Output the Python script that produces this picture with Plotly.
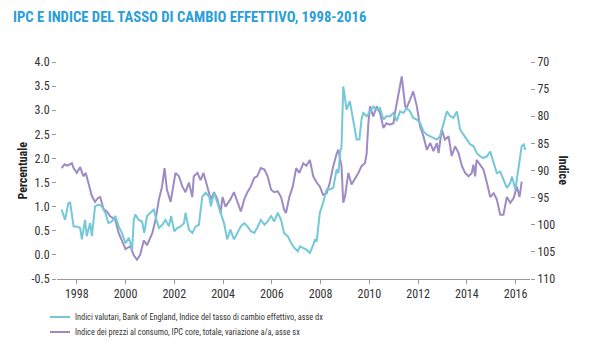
import plotly.graph_objects as go

# ---- data ----
cpi_years = [1997.38, 1997.5, 1997.62, 1997.8, 1997.87, 1998.0, 1998.14, 1998.27, 1998.37, 1998.48,
             1998.62, 1998.75, 1998.87, 1998.96, 1999.1, 1999.23, 1999.37, 1999.58, 1999.72, 1999.85,
             2000.0, 2000.2, 2000.33, 2000.47, 2000.6, 2000.75, 2000.88, 2001.1, 2001.23, 2001.37,
             2001.5, 2001.6, 2001.7, 2001.85, 2001.98, 2002.05, 2002.19, 2002.33, 2002.46, 2002.6,
             2002.74, 2002.8, 2002.95, 2003.08, 2003.2, 2003.36, 2003.5, 2003.63, 2003.77, 2003.9,
             2003.98, 2004.1, 2004.3, 2004.45, 2004.6, 2004.73, 2004.87, 2005.0, 2005.14, 2005.28,
             2005.4, 2005.55, 2005.7, 2005.83, 2005.97, 2006.1, 2006.24, 2006.38, 2006.5, 2006.58,
             2006.72, 2006.86, 2007.0, 2007.13, 2007.29, 2007.42, 2007.56, 2007.7, 2007.84, 2007.97,
             2008.1, 2008.25, 2008.38, 2008.52, 2008.66, 2008.73, 2008.86, 2008.93, 2009.0, 2009.14,
             2009.27, 2009.4, 2009.55, 2009.68, 2009.82, 2009.89, 2009.96, 2010.03, 2010.16, 2010.3,
             2010.44, 2010.58, 2010.7, 2010.85, 2010.99, 2011.05, 2011.2, 2011.33, 2011.47, 2011.53,
             2011.67, 2011.8, 2011.95, 2012.08, 2012.22, 2012.36, 2012.5, 2012.63, 2012.77, 2012.84,
             2012.97, 2013.1, 2013.25, 2013.38, 2013.52, 2013.66, 2013.8, 2013.93, 2014.07, 2014.2,
             2014.27, 2014.34, 2014.4, 2014.55, 2014.68, 2014.82, 2014.96, 2015.1, 2015.23, 2015.37,
             2015.5, 2015.64, 2015.78, 2015.92, 2016.05, 2016.16, 2016.25]
cpi_values = [1.80, 1.88, 1.85, 1.90, 1.80, 1.70, 1.82, 1.63, 1.70, 1.50,
              1.22, 1.10, 1.18, 1.20, 0.95, 0.90, 0.80, 0.73, 0.45, 0.30,
              0.12, 0.18, 0.00, -0.10, 0.00, 0.30, 0.20, 0.45, 0.73, 1.15,
              1.42, 1.80, 1.35, 1.10, 1.50, 1.70, 1.63, 1.42, 1.30, 1.50,
              1.20, 1.63, 1.70, 1.55, 1.70, 1.42, 1.15, 1.30, 1.15, 0.87,
              1.20, 1.00, 1.15, 1.30, 1.10, 0.90, 1.15, 1.30, 1.42, 1.60,
              1.63, 1.80, 1.77, 1.63, 1.35, 1.30, 1.32, 1.20, 0.95, 0.87,
              1.20, 1.42, 1.80, 1.70, 1.90, 1.85, 1.97, 1.63, 1.50, 1.42,
              1.25, 1.28, 1.50, 1.84, 2.10, 2.18, 1.84, 1.08, 1.20, 1.70,
              1.46, 1.56, 1.70, 1.84, 1.90, 2.10, 2.73, 3.08, 2.87, 3.08,
              2.94, 2.63, 2.73, 2.70, 2.73, 2.94, 3.36, 3.70, 3.08, 3.05,
              3.22, 3.39, 3.08, 2.67, 2.46, 2.18, 2.32, 2.15, 2.32, 2.11,
              2.60, 2.39, 2.46, 2.05, 2.25, 2.11, 1.84, 1.70, 1.63, 1.70,
              1.87, 1.63, 1.97, 1.87, 1.77, 1.50, 1.20, 1.28, 1.15, 0.83,
              0.83, 1.20, 1.08, 1.18, 1.42, 1.20, 1.52]

eer_years = [1997.38, 1997.52, 1997.66, 1997.73, 1997.87, 1998.0, 1998.14, 1998.21, 1998.34, 1998.41,
             1998.55, 1998.62, 1998.75, 1998.89, 1999.03, 1999.17, 1999.3, 1999.44, 1999.58, 1999.72,
             1999.85, 2000.0, 2000.14, 2000.27, 2000.34, 2000.4, 2000.54, 2000.68, 2000.77, 2000.88,
             2001.02, 2001.16, 2001.27, 2001.37, 2001.51, 2001.64, 2001.78, 2001.87, 2002.0, 2002.12,
             2002.26, 2002.4, 2002.46, 2002.6, 2002.74, 2002.88, 2003.01, 2003.15, 2003.29, 2003.43,
             2003.5, 2003.63, 2003.77, 2003.9, 2004.04, 2004.17, 2004.3, 2004.45, 2004.6, 2004.73,
             2004.87, 2005.0, 2005.14, 2005.28, 2005.4, 2005.55, 2005.7, 2005.83, 2005.97, 2006.1,
             2006.24, 2006.38, 2006.5, 2006.65, 2006.8, 2006.93, 2007.07, 2007.15, 2007.42, 2007.56,
             2007.7, 2007.77, 2007.84, 2007.9, 2007.97, 2008.1, 2008.25, 2008.38, 2008.52, 2008.66,
             2008.73, 2008.8, 2008.86, 2008.93, 2009.07, 2009.2, 2009.34, 2009.48, 2009.59, 2009.68,
             2009.75, 2009.89, 2010.03, 2010.16, 2010.3, 2010.44, 2010.58, 2010.7, 2010.85, 2010.99,
             2011.12, 2011.26, 2011.4, 2011.53, 2011.67, 2011.8, 2011.95, 2012.08, 2012.22, 2012.36,
             2012.5, 2012.63, 2012.77, 2012.9, 2013.04, 2013.18, 2013.32, 2013.45, 2013.59, 2013.73,
             2013.86, 2014.0, 2014.14, 2014.27, 2014.41, 2014.55, 2014.68, 2014.82, 2014.96, 2015.1,
             2015.23, 2015.37, 2015.5, 2015.64, 2015.78, 2015.85, 2015.99, 2016.12, 2016.25, 2016.33,
             2016.4]
eer_values = [97.2, 99.1, 96.0, 95.9, 100.3, 100.3, 100.6, 102.7, 99.1, 102.1,
              99.7, 102.1, 96.6, 96.3, 96.6, 97.8, 99.7, 99.4, 98.4, 100.3,
              101.5, 103.4, 102.4, 104.6, 99.1, 98.1, 99.1, 99.4, 101.5, 98.4,
              97.8, 97.2, 99.1, 100.6, 100.0, 99.1, 100.3, 98.4, 101.2, 100.6,
              100.3, 99.7, 97.8, 100.9, 101.5, 100.3, 100.0, 94.8, 94.1, 94.8,
              96.6, 94.1, 96.0, 97.8, 99.7, 102.7, 100.9, 102.7, 101.5, 100.3,
              99.7, 100.3, 101.2, 101.5, 100.6, 99.1, 100.0, 99.4, 98.4, 99.4,
              97.8, 99.1, 101.5, 102.1, 103.4, 104.3, 104.9, 104.0, 104.6, 105.2,
              103.7, 102.7, 103.1, 100.9, 97.8, 96.0, 93.5, 93.5, 93.2, 89.8,
              90.5, 86.8, 85.5, 74.5, 78.8, 77.2, 80.6, 84.3, 84.3, 80.6,
              79.4, 80.0, 79.1, 78.2, 78.8, 78.5, 80.6, 80.0, 80.0, 79.4,
              80.9, 79.1, 79.4, 78.5, 79.1, 80.3, 80.6, 81.2, 82.8, 83.4,
              83.7, 84.0, 84.3, 83.7, 81.2, 79.1, 80.0, 80.3, 79.1, 82.5,
              83.4, 84.3, 85.2, 85.5, 86.8, 87.4, 87.7, 87.4, 86.5, 88.6,
              90.5, 90.2, 91.7, 93.2, 92.3, 91.1, 93.5, 89.2, 85.5, 85.2,
              86.2]

year_ticks = [1998, 2000, 2002, 2004, 2006, 2008, 2010, 2012, 2014, 2016]
left_ticks = [-0.5, 0.0, 0.5, 1.0, 1.5, 2.0, 2.5, 3.0, 3.5, 4.0]
left_labels = ["-0.5", "0.0", "0.5", "1.0", "1.5", "2.0", "2.5", "3.0", "3.5", "4.0"]
right_ticks = [70, 75, 80, 85, 90, 95, 100, 105, 110]

title_text = "IPC E INDICE DEL TASSO DI CAMBIO EFFETTIVO, 1998-2016"
eer_name = "Indici valutari, Bank of England, Indice del tasso di cambio effettivo, asse dx"
cpi_name = "Indice dei prezzi al consumo, IPC core, totale, variazione a/a, asse sx"

BLUE = "#74c8d7"
PURPLE = "#9d8bc5"
FONT = "Roboto Condensed, Roboto, Liberation Sans, sans-serif"

fig = go.Figure()
fig.add_trace(go.Scatter(x=eer_years, y=eer_values, name=eer_name, yaxis="y2",
                         mode="lines", line=dict(color=BLUE, width=2), showlegend=False))
fig.add_trace(go.Scatter(x=cpi_years, y=cpi_values, name=cpi_name, yaxis="y",
                         mode="lines", line=dict(color=PURPLE, width=2), showlegend=False))

tickfont = dict(family=FONT, size=12, color="#333333")

# page has an 8px body margin; plot area in page pixels: x 57..530, y 62..279
PW, PH = 473.0, 217.0
def px_x(p):
    return (p - 57) / PW
def px_y(p):
    return (279 - p) / PH

legend_items = [(eer_name, BLUE, 317), (cpi_name, PURPLE, 332)]
shapes = []
annotations = []
for name, color, yy in legend_items:
    shapes.append(dict(type="line", xref="paper", yref="paper",
                       x0=px_x(50), x1=px_x(70), y0=px_y(yy), y1=px_y(yy),
                       line=dict(color=color, width=2)))
    annotations.append(dict(text=name, xref="paper", yref="paper",
                            x=px_x(73), y=px_y(yy), xanchor="left", yanchor="middle",
                            showarrow=False,
                            font=dict(family=FONT, size=8.3, color="#333333")))

annotations += [
    dict(text="<b>" + title_text + "</b>", xref="paper", yref="paper",
         x=px_x(11), y=px_y(17), xanchor="left", yanchor="middle", showarrow=False,
         font=dict(family=FONT, size=14.7, color="#2a9ed6")),
    dict(text="<b>Percentuale</b>", xref="paper", yref="paper",
         x=px_x(22), y=0.5, xanchor="center", yanchor="middle", showarrow=False,
         textangle=-90, font=dict(family=FONT, size=12, color="#222222")),
    dict(text="<b>Indice</b>", xref="paper", yref="paper",
         x=px_x(563), y=0.5, xanchor="center", yanchor="middle", showarrow=False,
         textangle=90, font=dict(family=FONT, size=12, color="#222222")),
]

fig.update_layout(
    width=592, height=352,
    margin=dict(l=49, r=70, t=54, b=81),
    paper_bgcolor="white", plot_bgcolor="white",
    showlegend=False,
    xaxis=dict(range=[1997.19, 2016.59], tickvals=year_ticks, ticks="outside",
               ticklen=4, tickcolor="#999999", showline=True, linecolor="#999999",
               linewidth=1, showgrid=False, zeroline=False, tickfont=tickfont),
    yaxis=dict(range=[-0.5, 4.0], tickvals=left_ticks, ticktext=left_labels,
               ticks="outside", ticklen=4, tickcolor="#999999", showline=False,
               showgrid=False, zeroline=False, tickfont=tickfont),
    yaxis2=dict(range=[110, 70], tickvals=right_ticks, overlaying="y", side="right",
                ticks="outside", ticklen=4, tickcolor="#999999", showline=False,
                showgrid=False, zeroline=False, tickfont=tickfont),
    shapes=shapes,
    annotations=annotations,
)

fig.write_html("out.html")
